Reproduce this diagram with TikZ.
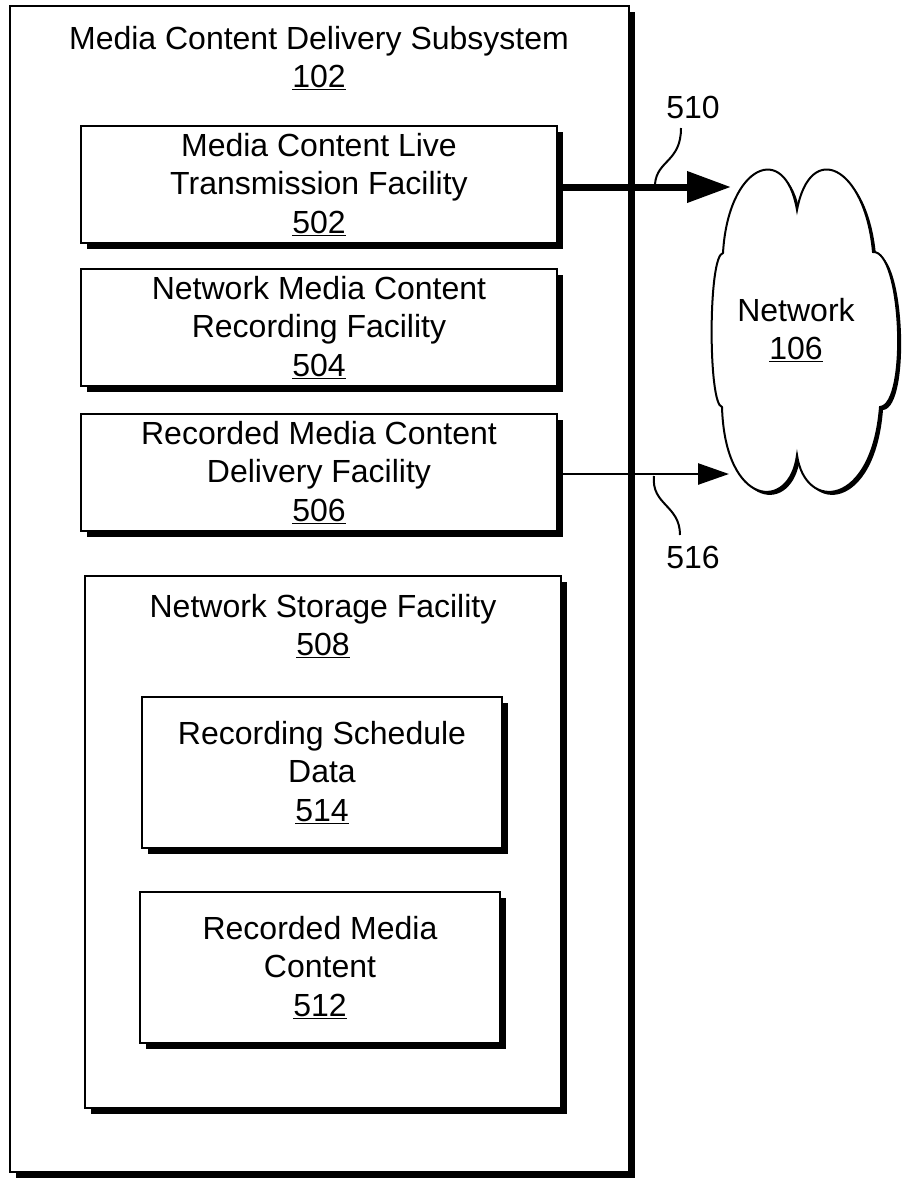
\documentclass[tikz,border=0pt]{standalone}
\usepackage{fontspec}
\setmainfont{Liberation Sans}
\usetikzlibrary{arrows.meta,shadows}
\begin{document}
\begin{tikzpicture}[x=1pt,y=-1pt,
  every node/.style={font=\fontsize{32}{38.4}\selectfont, inner sep=0pt, align=center},
  blk/.style={draw=black, line width=2.6pt, fill=white,
    drop shadow={shadow xshift=6pt, shadow yshift=-6pt, opacity=1, fill=black}},
  widebox/.style={blk, minimum width=476pt, minimum height=117pt},
  databox/.style={blk, minimum width=360pt, minimum height=151pt},
  leader/.style={line width=2pt},
  cloud outline/.style={insert path={
    (723,253) .. controls (728,165) and (785,140) .. (797,210)
    .. controls (810,140) and (865,165) .. (873,252)
    .. controls (902,250) and (908,405) .. (880,407)
    .. controls (872,508) and (805,512) .. (797,455)
    .. controls (790,512) and (725,508) .. (722,407)
    .. controls (708,405) and (708,255) .. (723,253) -- cycle}}]

\useasboundingbox (0,0) rectangle (902,1179);
\fill[white] (0,0) rectangle (902,1179);

% subsystem frame
\node[blk, minimum width=619pt, minimum height=1166pt] (sub) at (319.5,589) {};
\node[anchor=north] (subtitle) at (319,26) {Media Content Delivery Subsystem\\\underline{102}};

% facilities
\node[widebox] (live) at (319,184.5) {Media Content Live\\Transmission Facility\\\underline{502}};
\node[widebox] (rec) at (319,327.5) {Network Media Content\\Recording Facility\\\underline{504}};
\node[widebox] (del) at (319,472.5) {Recorded Media Content\\Delivery Facility\\\underline{506}};

% storage facility and its contents
\node[blk, minimum width=476pt, minimum height=532pt] (store) at (323,842) {};
\node[anchor=north] (storetitle) at (323,594) {Network Storage Facility\\\underline{508}};
\node[databox] (sched) at (322,772.5) {Recording Schedule\\Data\\\underline{514}};
\node[databox] (recd) at (320,967.5) {Recorded Media\\Content\\\underline{512}};

% network cloud
\fill[black, xshift=3pt, yshift=-3pt, cloud outline];
\draw[line width=2pt, fill=white, cloud outline];
\node (net) at (796,330) {Network\\\underline{106}};

% connections to the network
\coordinate (tipA) at (731,187);
\draw[line width=7pt, -{Triangle[length=44pt,width=30pt]}] (live.east |- tipA) -- (tipA);
\coordinate (tipB) at (729,474);
\draw[line width=2.6pt, -{Triangle[length=31pt,width=21pt]}] (del.east |- tipB) -- (tipB);

% reference numerals
\coordinate (sA) at (655,184);
\coordinate (lA) at (681,128);
\draw[leader] (sA) .. controls (657,160) and (681,162) .. (lA);
\node[anchor=south] (n510) at (693,119) {510};

\coordinate (sB) at (654,476);
\coordinate (lB) at (680,535);
\draw[leader] (sB) .. controls (651,505) and (680,505) .. (lB);
\node[anchor=north] (n516) at (693,546) {516};
\end{tikzpicture}
\end{document}
